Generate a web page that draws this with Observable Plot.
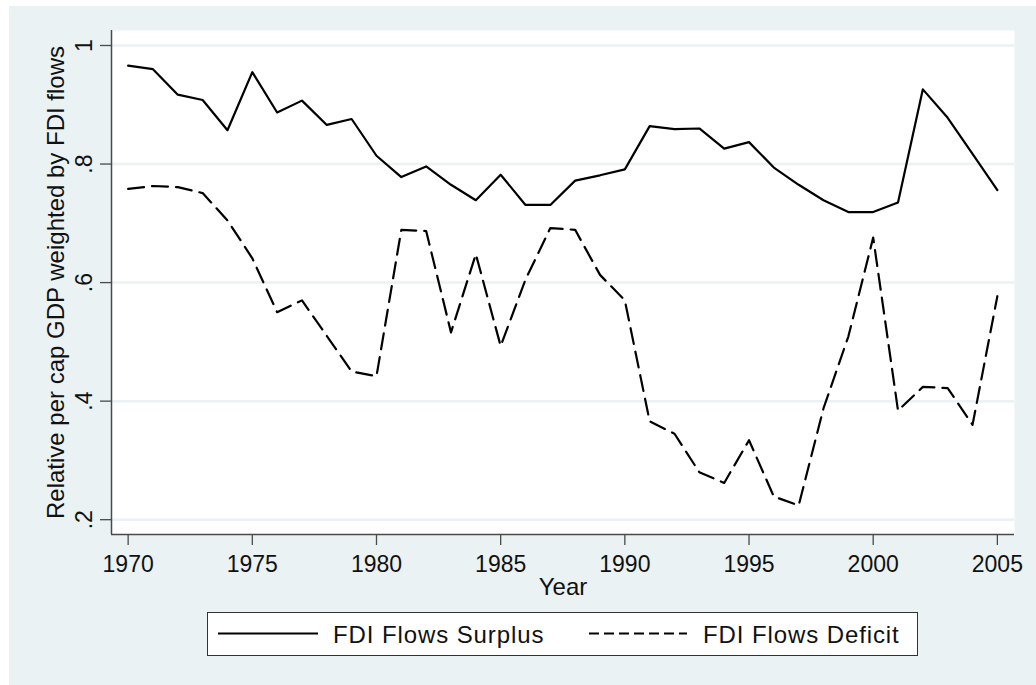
<!DOCTYPE html>
<html>
<head>
<meta charset="utf-8">
<script src="https://cdn.jsdelivr.net/npm/d3@7"></script>
<script src="https://cdn.jsdelivr.net/npm/@observablehq/plot@0.6"></script>
<style>
  html, body { margin: 0; padding: 0; background: #ffffff; }
  body { width: 1036px; height: 685px; position: relative; overflow: hidden; font-family: "Liberation Sans", Arial, sans-serif; }
  #wrap { position: absolute; left: 9px; top: 6px; width: 1027px; height: 679px; background: #eaf2f3; }
  #chart { position: absolute; left: 0; top: 0; }
  #legend { position: absolute; left: 198px; top: 606px; }
</style>
</head>
<body>
<div id="wrap">
  <div id="chart"></div>
  <div id="legend"></div>
</div>
<script>
// ---- data ----
const years = [1970, 1971, 1972, 1973, 1974, 1975, 1976, 1977, 1978, 1979,
               1980, 1981, 1982, 1983, 1984, 1985, 1986, 1987, 1988, 1989,
               1990, 1991, 1992, 1993, 1994, 1995, 1996, 1997, 1998, 1999,
               2000, 2001, 2002, 2003, 2004, 2005];
const surplus = [0.966, 0.960, 0.917, 0.908, 0.857, 0.955, 0.887, 0.907, 0.866, 0.876,
                 0.814, 0.778, 0.796, 0.765, 0.739, 0.782, 0.731, 0.731, 0.772, 0.781,
                 0.791, 0.864, 0.859, 0.860, 0.826, 0.837, 0.794, 0.765, 0.739, 0.719,
                 0.719, 0.735, 0.926, 0.878, 0.817, 0.756];
const deficit = [0.758, 0.763, 0.761, 0.751, 0.705, 0.641, 0.550, 0.570, 0.510, 0.450,
                 0.442, 0.689, 0.687, 0.516, 0.648, 0.493, 0.605, 0.692, 0.689, 0.613,
                 0.570, 0.366, 0.345, 0.280, 0.262, 0.334, 0.239, 0.224, 0.388, 0.509,
                 0.676, 0.384, 0.424, 0.422, 0.360, 0.577];
const seriesNames = ["FDI Flows Surplus", "FDI Flows Deficit"];
const xTicks = [1970, 1975, 1980, 1985, 1990, 1995, 2000, 2005];
const yTicks = [0.2, 0.4, 0.6, 0.8, 1];
const yTickLabels = [".2", ".4", ".6", ".8", "1"];
const xTitle = "Year";
const yTitle = "Relative per cap GDP weighted by FDI flows";

// ---- table ----
const rows = years.map((y, i) => ({year: y, surplus: surplus[i], deficit: deficit[i]}));

const xDomain = [1969.33, 2005.69];
const yDomain = [0.175, 1.0253];
const axisColor = "#4a4a4a";

const chart = Plot.plot({
  width: 1027,
  height: 600,
  marginLeft: 102,
  marginRight: 22,
  marginTop: 24,
  marginBottom: 72,
  x: {domain: xDomain},
  y: {domain: yDomain},
  style: {background: "transparent", fontFamily: "'Liberation Sans', Arial, sans-serif", fontSize: "23px", color: "#111"},
  marks: [
    Plot.frame({fill: "white", stroke: "none"}),
    Plot.gridY(yTicks, {stroke: "#eaf2f3", strokeWidth: 2.5, strokeOpacity: 1}),
    Plot.ruleX([xDomain[0]], {stroke: axisColor, strokeWidth: 1.5}),
    Plot.ruleY([yDomain[0]], {stroke: axisColor, strokeWidth: 1.5}),
    Plot.axisX({ticks: xTicks, tickFormat: d => String(d), tickSize: 11, tickPadding: 10, label: null, stroke: axisColor, strokeWidth: 1.3, fontSize: 23, fill: "#111"}),
    Plot.axisY({ticks: yTicks, tickFormat: d => yTickLabels[yTicks.indexOf(d)], tickSize: 11, tickPadding: 9, tickRotate: -90, label: null, stroke: axisColor, strokeWidth: 1.3, fontSize: 23, fill: "#111"}),
    Plot.line(rows, {x: "year", y: "surplus", stroke: "black", strokeWidth: 2.2}),
    Plot.line(rows, {x: "year", y: "deficit", stroke: "black", strokeWidth: 2.2, strokeDasharray: "16,8"}),
    Plot.text([yTitle], {text: d => d, frameAnchor: "left", textAnchor: "middle", rotate: -90, dx: -48, lineAnchor: "bottom", fontSize: 24, fill: "#111"}),
    Plot.text([xTitle], {text: d => d, frameAnchor: "bottom", dy: 60, lineAnchor: "bottom", fontSize: 24, fill: "#111"})
  ]
});
document.getElementById("chart").appendChild(chart);

// ---- legend (below the plot) ----
const ns = "http://www.w3.org/2000/svg";
const lg = document.createElementNS(ns, "svg");
lg.setAttribute("width", 711);
lg.setAttribute("height", 44);
const box = document.createElementNS(ns, "rect");
box.setAttribute("x", 0.5); box.setAttribute("y", 0.5);
box.setAttribute("width", 710); box.setAttribute("height", 43);
box.setAttribute("fill", "white"); box.setAttribute("stroke", "#333"); box.setAttribute("stroke-width", 1);
lg.appendChild(box);
const items = [
  {x1: 11, x2: 111, tx: 126, dash: null, label: seriesNames[0]},
  {x1: 382, x2: 480, tx: 496, dash: "10,5", label: seriesNames[1]}
];
items.forEach(it => {
  const ln = document.createElementNS(ns, "line");
  ln.setAttribute("x1", it.x1); ln.setAttribute("x2", it.x2);
  ln.setAttribute("y1", 21.5); ln.setAttribute("y2", 21.5);
  ln.setAttribute("stroke", "black"); ln.setAttribute("stroke-width", 2.2);
  if (it.dash) ln.setAttribute("stroke-dasharray", it.dash);
  lg.appendChild(ln);
  const t = document.createElementNS(ns, "text");
  t.setAttribute("x", it.tx); t.setAttribute("y", 31);
  t.setAttribute("font-family", "'Liberation Sans', Arial, sans-serif");
  t.setAttribute("font-size", 24);
  t.setAttribute("letter-spacing", "0.9");
  t.setAttribute("fill", "#111");
  t.textContent = it.label;
  lg.appendChild(t);
});
document.getElementById("legend").appendChild(lg);
</script>
</body>
</html>
